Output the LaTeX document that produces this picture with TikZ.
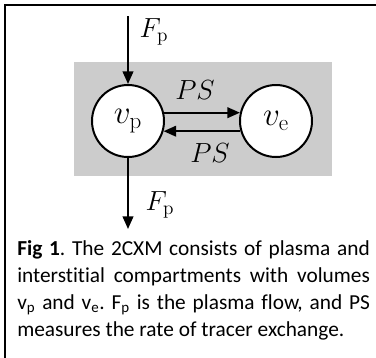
\documentclass[tikz,border=0pt]{standalone}
\usepackage[no-math]{fontspec}
\setmainfont{Carlito}[Ligatures={NoCommon}]
\usepackage{tikz}
\usetikzlibrary{arrows.meta,positioning}
\definecolor{cxmgray}{HTML}{CCCCCC}

\begin{document}
\begin{tikzpicture}[
    x=0.75pt, y=-0.75pt,
    comp/.style={draw, circle, line width=1.5pt, fill=white, minimum size=54pt, inner sep=0pt, font=\fontsize{25}{29}\selectfont},
    flow/.style={-{Triangle[length=9.5pt, width=8pt]}, line width=1.5pt},
    lbl/.style={font=\fontsize{21}{25}\selectfont}
]
\useasboundingbox (0,0) rectangle (376,358);
\clip (0,0) rectangle (376,358);
% frame
\draw[line width=1.5pt] (5,5) rectangle (390,370);

% exchange region
\node[fill=cxmgray, minimum width=193.5pt, minimum height=85.5pt, inner sep=0pt] (tissue) at (203,119) {};

% compartments
\node[comp] (vp) at (128,121) {$v_\mathrm{p}$};
\node[comp] (ve) at (276,121) {$v_\mathrm{e}$};

% plasma flow
\coordinate (in) at (128,16);
\coordinate (out) at (128,229);
\draw[flow] (in) -- (vp);
\draw[flow] (vp) -- (out);
\node[lbl] (fin) at (154,32) {$F_\mathrm{p}$};
\node[lbl] (fout) at (160,205) {$F_\mathrm{p}$};

% exchange
\draw[flow] (vp.13) -- (ve.167);
\draw[flow] (ve.196) -- (vp.-16);
\node[lbl] (psup) at (195,90) {$PS$};
\node[lbl] (psdown) at (210,153) {$PS$};

% caption
\node[anchor=north west, text width=264.5pt, align=justify, inner sep=0pt,
      font=\fontsize{16}{20.2}\selectfont] (caption) at (17,240)
  {\frenchspacing\hyphenpenalty=10000
   \textbf{Fig 1}. The 2CXM consists of plasma and\linebreak interstitial compartments with volumes\linebreak v\textsubscript{p} and v\textsubscript{e}. F\textsubscript{p} is the plasma flow, and PS\linebreak measures the rate of tracer exchange.};
\end{tikzpicture}
\end{document}
